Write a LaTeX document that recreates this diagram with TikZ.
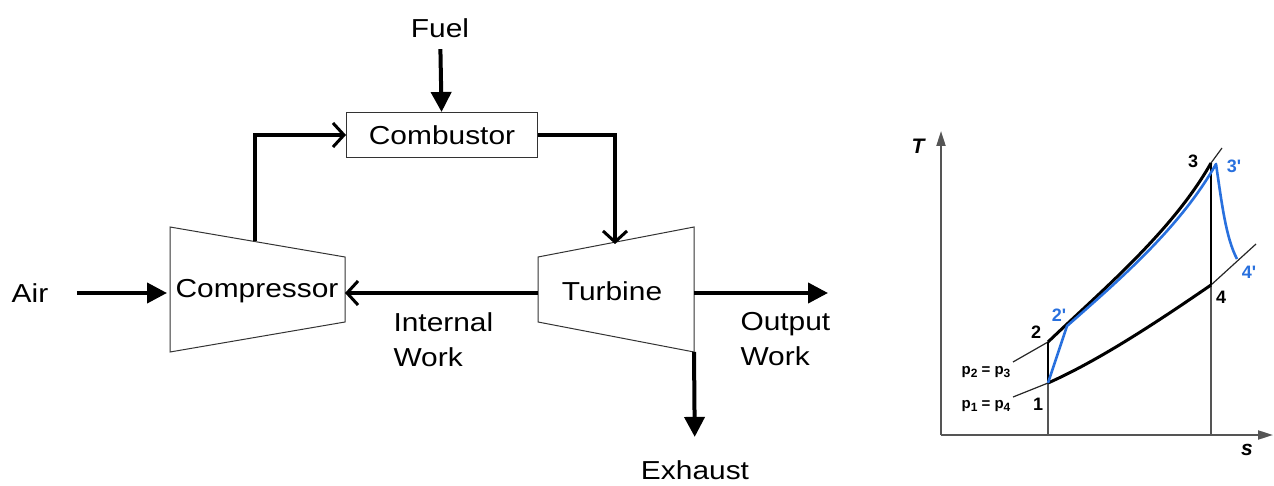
\documentclass[tikz,border=0pt]{standalone}
\usepackage{fontspec}
\setmainfont{Liberation Sans}[FakeStretch=1.15]
\newfontfamily\tsfont{Liberation Sans}
\usepackage{tikz}
\usetikzlibrary{positioning, arrows.meta}
\definecolor{cycblue}{RGB}{40,112,222}
\definecolor{axisgray}{RGB}{85,85,85}
\newcommand{\psub}[1]{\raisebox{-0.35ex}{\fontsize{12}{13}\selectfont #1}}

\begin{document}
\begin{tikzpicture}[x=1pt, y=-1pt,
  font=\fontsize{26}{35}\selectfont,
  casing/.style={draw=black!80, line width=1pt},
  flow/.style={line width=4pt, -{Triangle[length=20pt, width=20pt]}},
  openflow/.style={line width=4pt, -{Straight Barb[length=11pt, width=24pt, line width=3pt]}},
  tslabel/.style={font=\tsfont\bfseries\fontsize{18}{20}\selectfont, inner sep=0pt},
  axlabel/.style={font=\tsfont\bfseries\itshape\fontsize{21}{23}\selectfont, inner sep=0pt},
  pslabel/.style={font=\tsfont\bfseries\fontsize{15}{17}\selectfont, inner sep=0pt}]
  \useasboundingbox (0,0) rectangle (1274,486);

  % cycle plant: compressor, combustor, turbine
  \node[casing, minimum width=191pt, minimum height=45pt] (comb) at (442,135) {Combustor};
  \node (fuel) at (440,28) {Fuel};
  \draw[casing] (170,227) -- (345,257) -- (345,322) -- (170,352) -- cycle;
  \draw[casing] (538,257) -- (694,227) -- (694,352) -- (538,322) -- cycle;
  \node (comp) at (257,291) {Compressor};
  \node (turb) at (612,291) {Turbine};
  \coordinate (compup) at (255,241);
  \coordinate (compin) at (170,293);
  \coordinate (compout) at (345,293);
  \coordinate (turbtop) at (615,244);
  \coordinate (turbin) at (538,293);
  \coordinate (turbout) at (694,293);
  \coordinate (turbbot) at (694,352);
  \coordinate (workend) at (828,293);
  \node (air) at (30,293) {Air};
  \node (exhaust) at (695,470) {Exhaust};
  \node[align=left, anchor=north west] (intwork) at (390,309) {Internal\\Work};
  \node[align=left, anchor=north west] (outwork) at (737,309) {Output\\Work};

  \draw[flow, shorten <=8pt] (fuel) -- (comb);
  \draw[flow, shorten <=25pt, shorten >=3pt] (air) -- (compin);
  \draw[openflow] (compup) |- (comb.west);
  \draw[openflow] (comb.east) -| (turbtop);
  \draw[openflow] (turbin) -- (compout);
  \draw[flow] (turbout) -- (workend);
  \draw[flow, shorten >=20pt] (turbbot) -- (exhaust);

  % T-s diagram
  \coordinate (orig) at (941,435);
  \coordinate (tend) at (941,131);
  \coordinate (send) at (1273,435);
  \draw[axisgray, line width=2pt, -{Triangle[length=15pt, width=9pt]}] (orig) -- (tend);
  \draw[axisgray, line width=2pt, -{Triangle[length=15pt, width=9pt]}] (orig) -- (send);
  \node[axlabel] (tlab) at (918,146) {T};
  \node[axlabel] (slab) at (1247,450) {s};

  \coordinate (s1) at (1048,383);
  \coordinate (s2) at (1048,342);
  \coordinate (s3) at (1211,163);
  \coordinate (s4) at (1211,285);
  \coordinate (r2) at (1067,326);
  \coordinate (r3) at (1216,164);
  \coordinate (r4) at (1237,259);
  \coordinate (s1foot) at (1048,435);
  \coordinate (s4foot) at (1211,435);

  \draw[axisgray, line width=1.3pt] (s1foot) -- (s1);
  \draw[axisgray, line width=1.3pt] (s4foot) -- (s4);
  \draw[black!85, line width=1.2pt] (1013,397) -- (s1);
  \draw[black!85, line width=1.2pt] (s4) -- (1256,244);
  \draw[black!85, line width=1.2pt] (1013,362) -- (s2);
  \draw[black!85, line width=1.2pt] (s3) -- (1222,148);
  \draw[black, line width=3pt] (s1) .. controls (1100,360) and (1160,320) .. (s4);
  \draw[black, line width=3pt] (s2) .. controls (1100,292) and (1172,232) .. (s3);
  \draw[black, line width=2.5pt] (s1) -- (s2);
  \draw[black, line width=2.5pt] (s4) -- (s3);

  \draw[cycblue, line width=2.6pt, line join=round] (s1) -- (r2)
    .. controls (1118,281) and (1180,228) .. (r3)
    .. controls (1222,205) and (1226,238) .. (r4);

  \node[tslabel] (l1) at (1038,404) {1};
  \node[tslabel] (l2) at (1036,332) {2};
  \node[tslabel] (l3) at (1193,161) {3};
  \node[tslabel] (l4) at (1221,297) {4};
  \node[tslabel, text=cycblue] (l2p) at (1059,315) {2'};
  \node[tslabel, text=cycblue] (l3p) at (1234,166) {3'};
  \node[tslabel, text=cycblue] (l4p) at (1249,272) {4'};
  \node[pslabel] (pup) at (986,372) {p\psub{2} = p\psub{3}};
  \node[pslabel] (plow) at (986,406) {p\psub{1} = p\psub{4}};
\end{tikzpicture}
\end{document}
